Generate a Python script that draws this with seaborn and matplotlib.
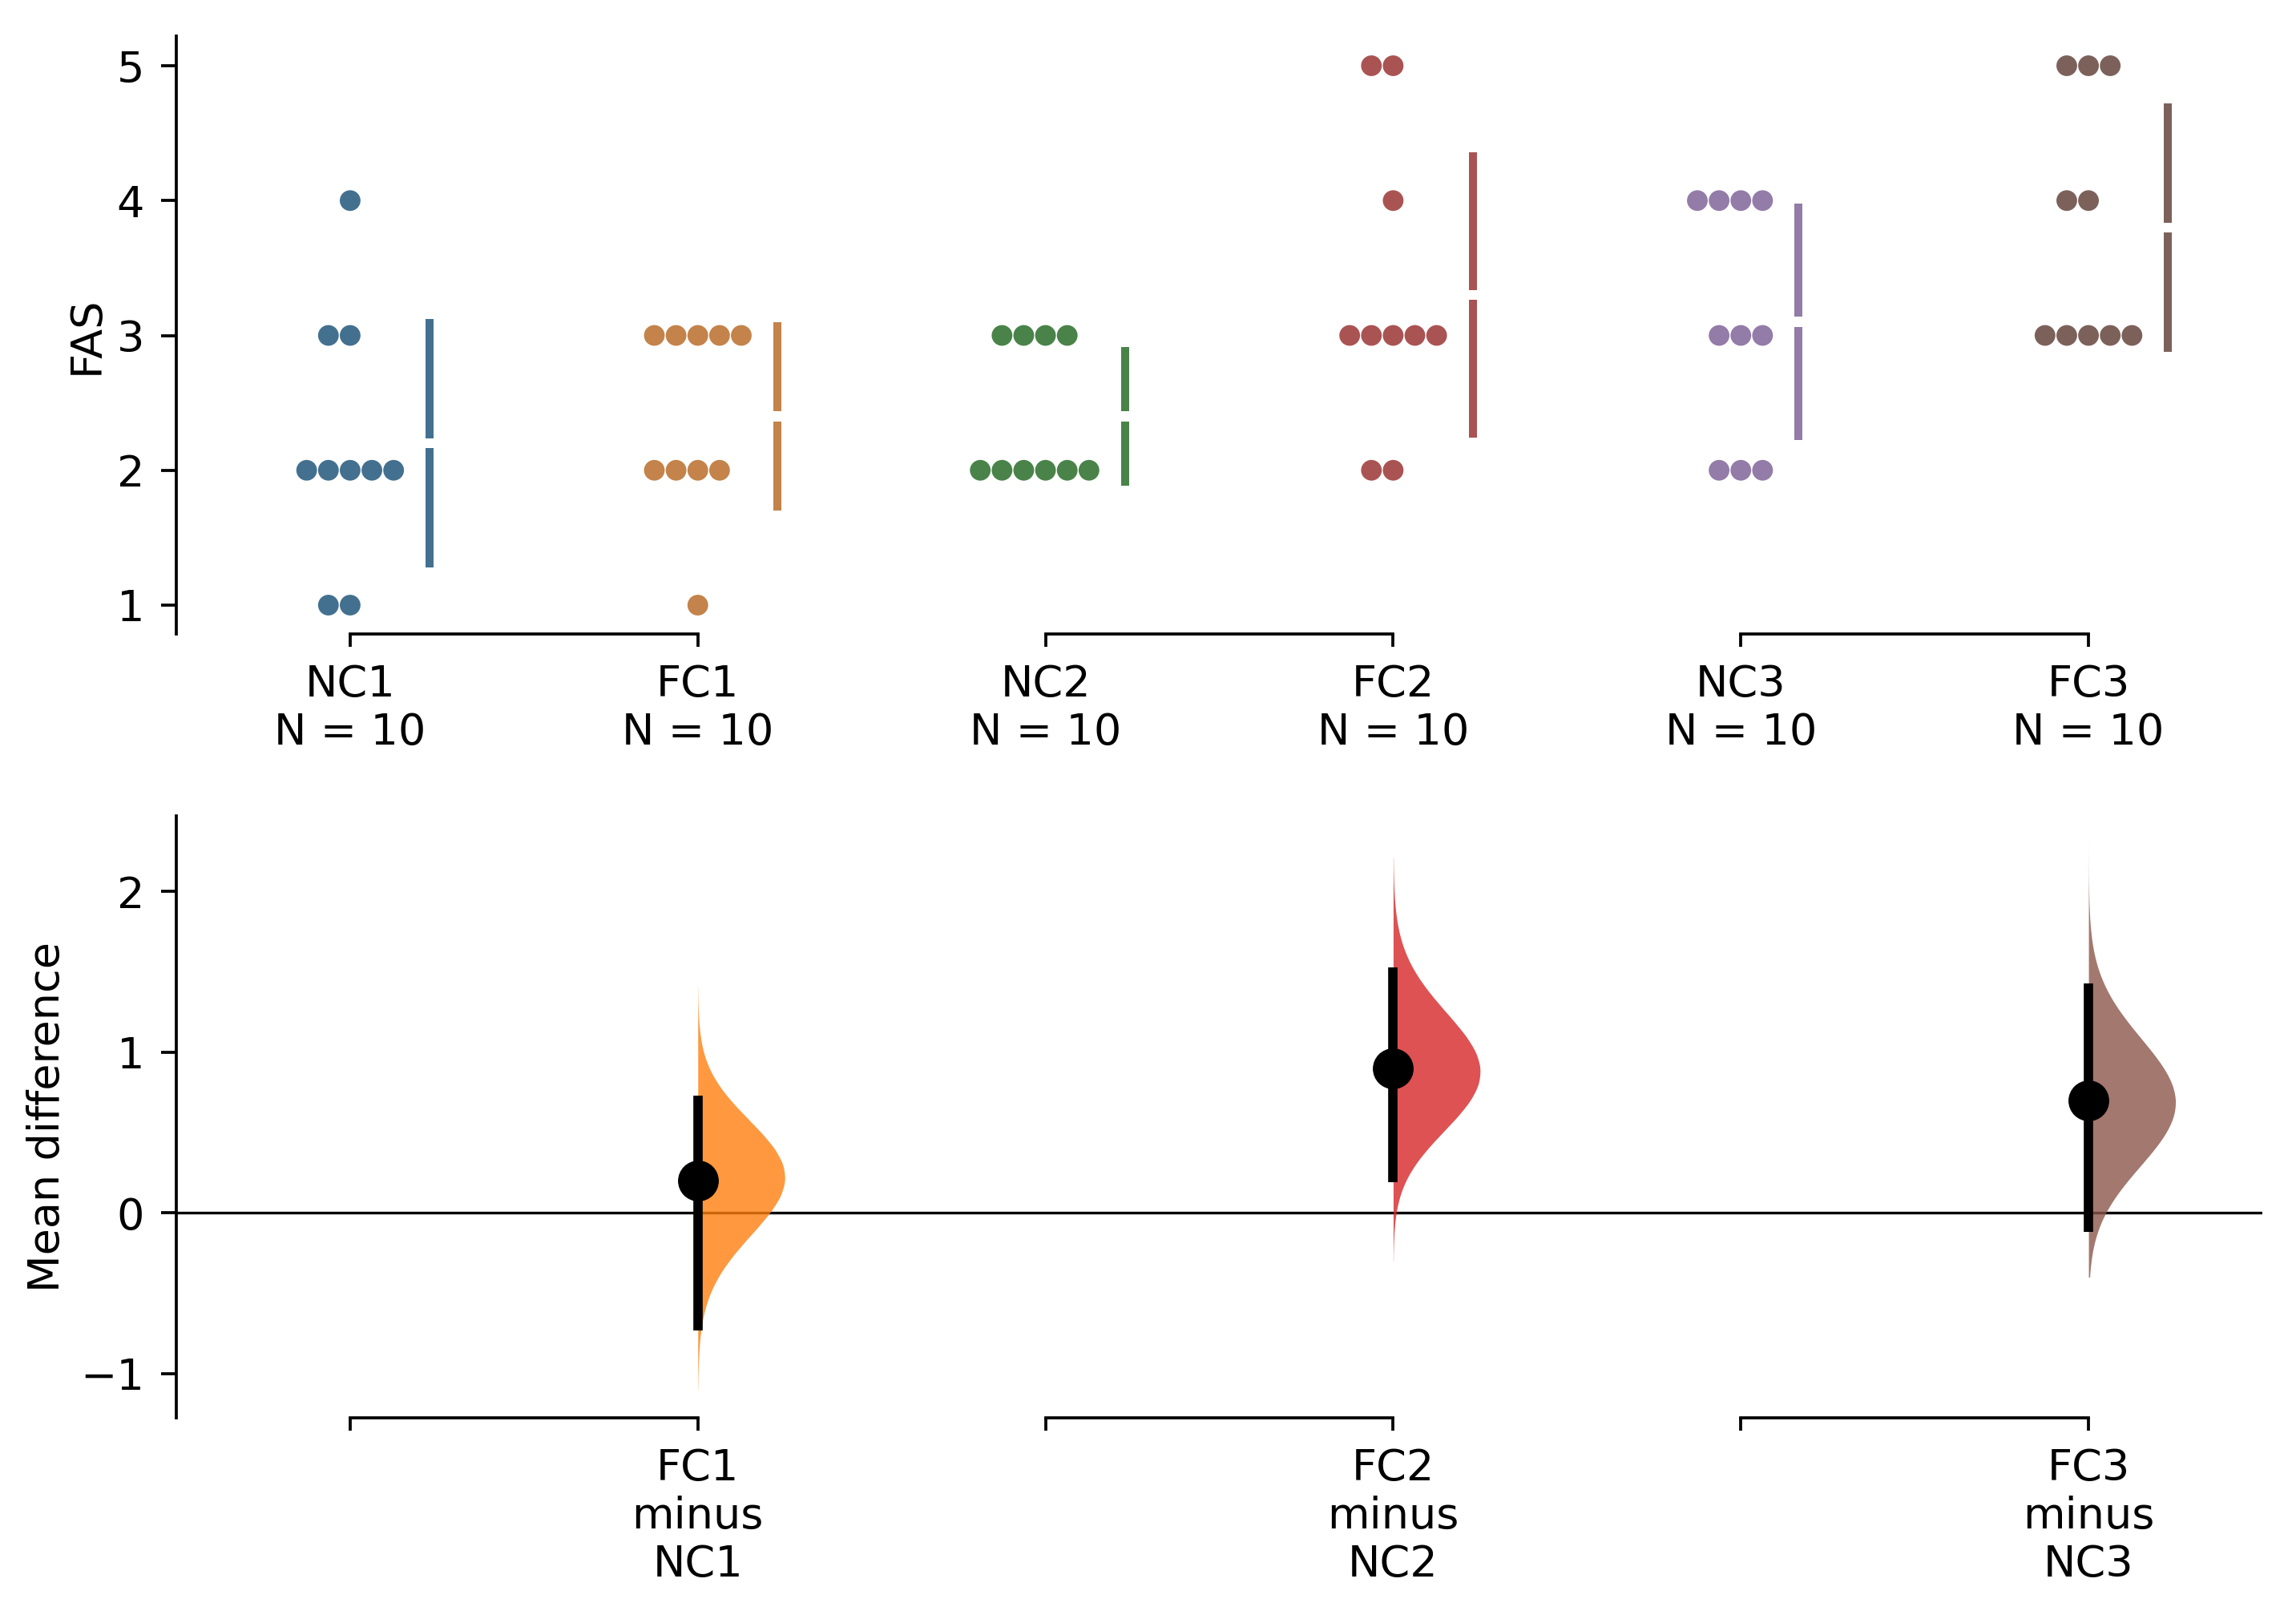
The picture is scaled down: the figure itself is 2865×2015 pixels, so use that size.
import numpy as np
import pandas as pd
import matplotlib
matplotlib.use("Agg")
import matplotlib.pyplot as plt
import seaborn as sns
from matplotlib.transforms import blended_transform_factory

# ---------------- data ----------------
groups = ["NC1", "FC1", "NC2", "FC2", "NC3", "FC3"]
nc1 = [4, 3, 3, 2, 2, 2, 2, 2, 1, 1]
fc1 = [3, 3, 3, 3, 3, 2, 2, 2, 2, 1]
nc2 = [3, 3, 3, 3, 2, 2, 2, 2, 2, 2]
fc2 = [5, 5, 4, 3, 3, 3, 3, 3, 2, 2]
nc3 = [4, 4, 4, 4, 3, 3, 3, 2, 2, 2]
fc3 = [5, 5, 5, 4, 4, 3, 3, 3, 3, 3]
group_values = [nc1, fc1, nc2, fc2, nc3, fc3]

pairs = [(0, 1), (2, 3), (4, 5)]
diff_labels = ["FC1\nminus\nNC1", "FC2\nminus\nNC2", "FC3\nminus\nNC3"]
ci_low = [-0.73, 0.19, -0.12]      # 95% CI
ci_high = [0.73, 1.53, 1.43]
boot_min = [-1.10, -0.30, -0.40]   # extent of bootstrap distributions
boot_max = [1.41, 2.21, 2.29]
levels = [1, 2, 3, 4, 5]
n_resamples = 5000

# ---------------- style ----------------
DPI = 300
FS = 13
plt.rcParams.update({
    "font.family": ["DejaVu Sans"],
    "font.size": FS,
    "axes.linewidth": 0.9,
    "xtick.major.width": 0.9,
    "ytick.major.width": 0.9,
    "xtick.major.size": 3.8,
    "ytick.major.size": 4.6,
    "xtick.major.pad": 5.0,
    "ytick.major.pad": 5.0,
})

base = sns.color_palette("tab10", 6)
swarm_cols = [sns.desaturate(c, 0.5) for c in base]

df = pd.DataFrame({
    "group": np.repeat(groups, [len(v) for v in group_values]),
    "FAS": np.concatenate(group_values),
})

fig = plt.figure(figsize=(2865 / DPI, 2015 / DPI), dpi=DPI)
W, H = 2865, 2015
ax1 = fig.add_axes([220 / W, 1 - 791 / H, (2823 - 220) / W, (791 - 45.5) / H])
ax2 = fig.add_axes([220 / W, 1 - 1769 / H, (2823 - 220) / W, (1769 - 1018) / H])

# ---------------- top: swarm ----------------
sns.swarmplot(data=df, x="group", y="FAS", hue="group", order=groups,
              hue_order=groups, palette=swarm_cols, size=6.2, linewidth=0,
              legend=False, ax=ax1, zorder=3)
ax1.set_xlim(-0.5, 5.5)
ax1.set_ylim(0.786, 5.217)
ax1.set_yticks([1, 2, 3, 4, 5])
ax1.set_xticks(range(6))
ax1.set_xticklabels([f"{g}\nN = {len(v)}" for g, v in zip(groups, group_values)])
ax1.set_xlabel("")
ax1.set_ylabel("FAS", labelpad=2.8)
sns.despine(ax=ax1, bottom=True)

fig.canvas.draw()
# right-most swarm point per group
xmax = {}
for coll in ax1.collections:
    offs = np.asarray(coll.get_offsets())
    if len(offs) == 0:
        continue
    gi = int(round(np.median(offs[:, 0])))
    xmax[gi] = max(xmax.get(gi, -np.inf), offs[:, 0].max())

yspan = 5.217 - 0.786
gap = 0.0085 * yspan
for i, vals in enumerate(group_values):
    m = np.mean(vals)
    sd = np.std(vals, ddof=1)
    xl = xmax.get(i, i) + 0.104
    ax1.vlines(xl, m - sd, m - gap, color=swarm_cols[i], lw=2.4, zorder=4)
    ax1.vlines(xl, m + gap, m + sd, color=swarm_cols[i], lw=2.4, zorder=4)

tr1 = blended_transform_factory(ax1.transData, ax1.transAxes)
for a, b in pairs:
    ax1.plot([a, b], [0, 0], color="black", lw=0.9, transform=tr1, clip_on=False)

# ---------------- bottom: effect sizes ----------------
def mean_distribution(vals, n):
    counts = np.array([vals.count(l) for l in levels], dtype=float)
    p = counts / counts.sum()
    d = np.array([1.0])
    for _ in range(n):
        d = np.convolve(d, p)
    support = (np.arange(len(d)) + n * levels[0]) / n
    return support, d

ax2.axhline(0, color="black", lw=0.8, zorder=1)
for k, (a, b) in enumerate(pairs):
    ctrl, test = group_values[a], group_values[b]
    sc, pc = mean_distribution(ctrl, len(ctrl))
    st, pt = mean_distribution(test, len(test))
    diffs = (st[:, None] - sc[None, :]).ravel()
    probs = (pt[:, None] * pc[None, :]).ravel()
    mu = np.sum(probs * diffs)
    sdv = np.sqrt(np.sum(probs * (diffs - mu) ** 2))
    bw = sdv * n_resamples ** (-1 / 5)
    yy = np.linspace(boot_min[k], boot_max[k], 400)
    dens = (probs[None, :] * np.exp(-0.5 * ((yy[:, None] - diffs[None, :]) / bw) ** 2)).sum(axis=1)
    dens = dens / dens.max() * 0.25
    ax2.fill_betweenx(yy, b, b + dens, color=base[b], alpha=0.8, lw=0, zorder=2)
    md = np.mean(test) - np.mean(ctrl)
    ax2.vlines(b, ci_low[k], ci_high[k], color="black", lw=2.8, zorder=3)
    ax2.plot([b], [md], "o", color="black", ms=11.2, zorder=4)

ax2.set_xlim(-0.5, 5.5)
ax2.set_ylim(-1.275, 2.47)
ax2.set_yticks([-1, 0, 1, 2])
ax2.set_xticks(range(6))
xl2 = [""] * 6
for (a, b), lab in zip(pairs, diff_labels):
    xl2[b] = lab
ax2.set_xticklabels(xl2)
ax2.set_ylabel("Mean difference", labelpad=3.6)
sns.despine(ax=ax2, bottom=True)
tr2 = blended_transform_factory(ax2.transData, ax2.transAxes)
for a, b in pairs:
    ax2.plot([a, b], [0, 0], color="black", lw=0.9, transform=tr2, clip_on=False)

fig.savefig("out.png", dpi=DPI)
